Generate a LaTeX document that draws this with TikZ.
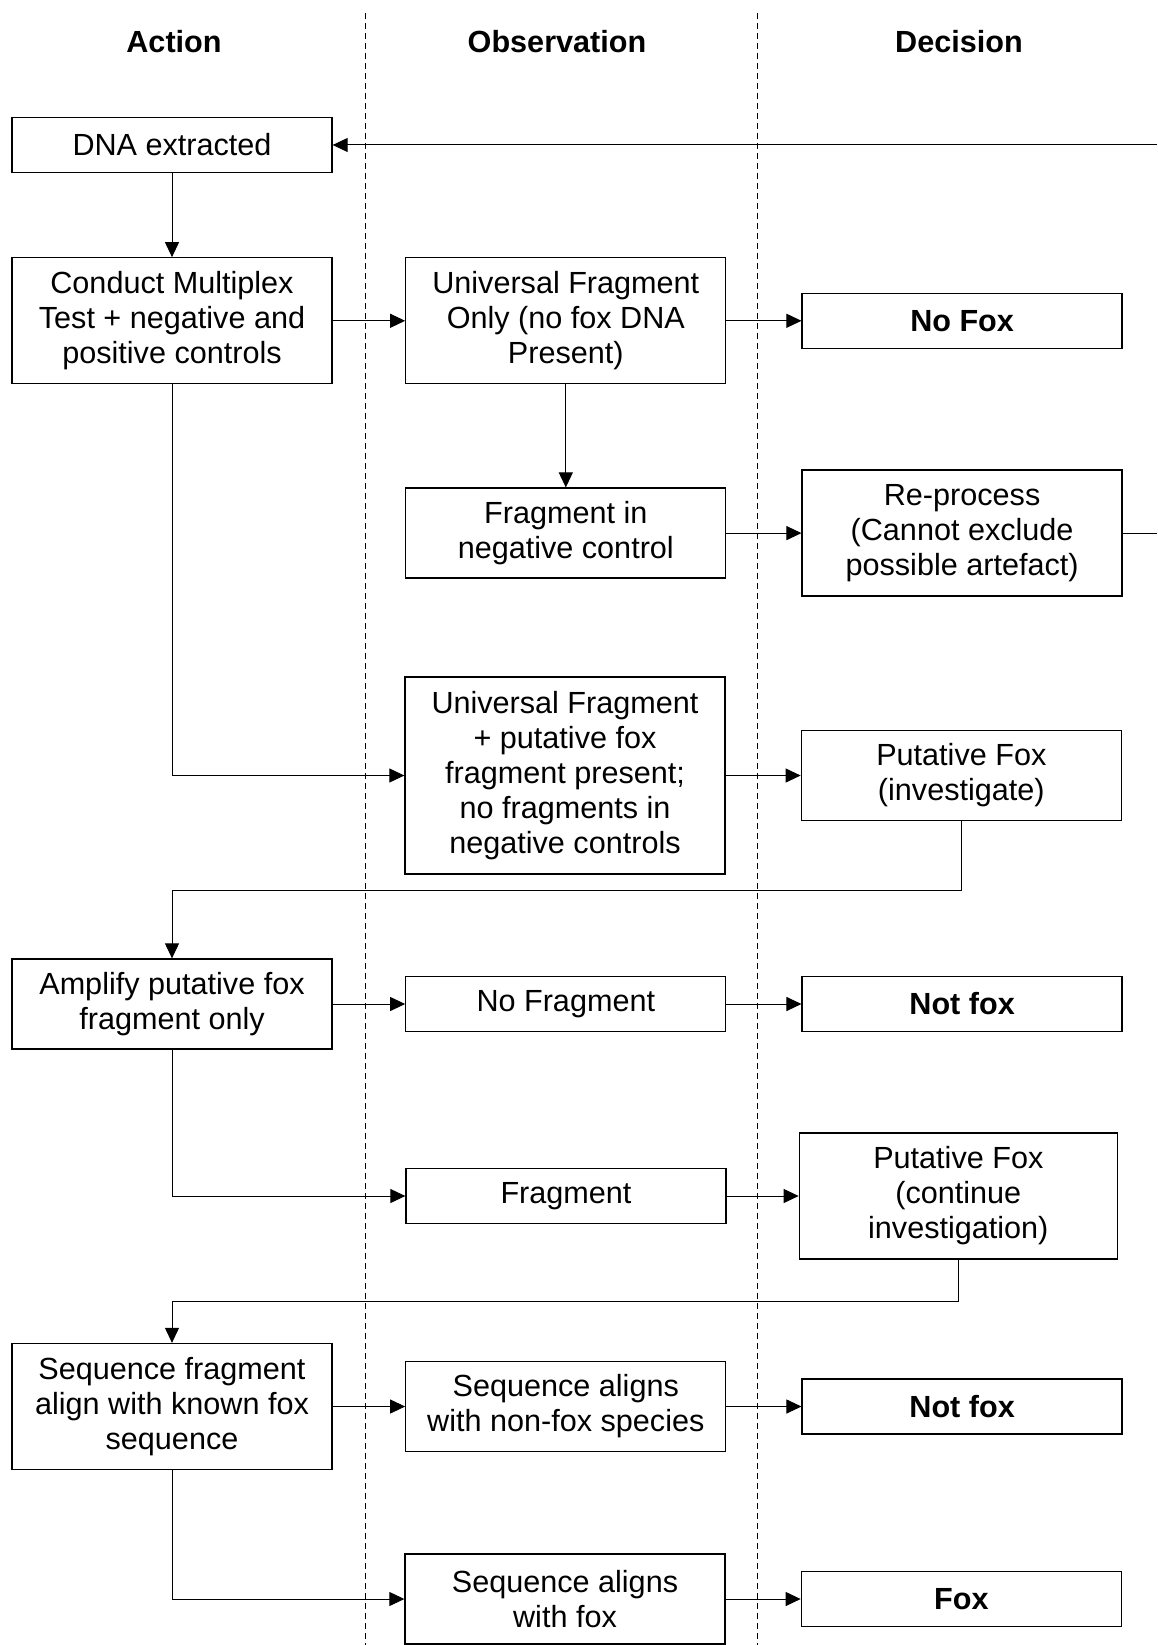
\documentclass[tikz,border=0pt]{standalone}
\usepackage{fontspec}
\setmainfont{Liberation Sans}
\usetikzlibrary{positioning,arrows.meta}

\tikzset{
  box/.style={draw, line width=1.3pt, minimum width=320pt, align=center, inner sep=6pt, font=\fontsize{30.6}{35}\selectfont},
  one/.style={box, minimum height=55pt},
  two/.style={box, minimum height=90pt},
  three/.style={box, minimum height=126pt},
  five/.style={box, minimum height=197pt},
  head/.style={font=\fontsize{30.6}{35}\selectfont\bfseries},
  arr/.style={-{Triangle[length=15pt,width=14pt]}, line width=1pt},
  lane/.style={dash pattern=on 6pt off 4pt, line width=1pt},
}

\begin{document}
\begin{tikzpicture}[x=1pt, y=-1pt]
\useasboundingbox (0,0) rectangle (1157,1645);

\draw[lane] (365,13) -- (365,1645);
\draw[lane] (757,13) -- (757,1645);

\node[head] (hact) at (174,42) {Action};
\node[head] (hobs) at (557,42) {Observation};
\node[head] (hdec) at (959,42) {Decision};

\node[one] (dna) at (172,145) {DNA extracted};
\node[three, below=84pt of dna] (conduct) {Conduct Multiplex\\Test + negative and\\positive controls};
\node[three, right=72.5pt of conduct] (univonly) {Universal Fragment\\Only (no fox DNA\\Present)};
\node[one, right=75pt of univonly] (nofox) {\textbf{No Fox}};
\node[two, below=103pt of univonly] (fragneg) {Fragment in\\negative control};
\node[three, right=75pt of fragneg] (reproc) {Re-process\\(Cannot exclude\\possible artefact)};
\node[five] (univput) at (565,775.5) {Universal Fragment\\+ putative fox\\fragment present;\\no fragments in\\negative controls};
\node[two, right=75pt of univput] (putfox) {Putative Fox\\(investigate)};

\node[two] (amplify) at (172,1004) {Amplify putative fox\\fragment only};
\node[one, right=72.5pt of amplify] (nofrag) {No Fragment};
\node[one, right=75pt of nofrag] (notfoxa) {\textbf{Not fox}};
\node[one] (frag) at (566,1196) {Fragment};
\node[three, minimum width=318pt, right=72pt of frag] (putfoxb) {Putative Fox\\(continue\\investigation)};

\node[three] (seqfrag) at (172,1406.5) {Sequence fragment\\align with known fox\\sequence};
\node[two, right=72.5pt of seqfrag] (seqnon) {Sequence aligns\\with non-fox species};
\node[one, right=75pt of seqnon] (notfoxb) {\textbf{Not fox}};
\node[two] (seqfox) at (565,1599) {Sequence aligns\\with fox};
\node[one, right=75pt of seqfox] (fox) {\textbf{Fox}};

\coordinate (loopin) at (1157,145);
\coordinate (loopout) at (1157,530);

\draw[arr] (dna) -- (conduct);
\draw[arr] (conduct) -- (univonly);
\draw[arr] (univonly) -- (nofox);
\draw[arr] (univonly) -- (fragneg);
\draw[arr] (fragneg) -- (reproc);
\draw[line width=1pt] (reproc.east) -- (reproc.east -| loopout);
\draw[arr] (loopin) -- (dna);
\draw[arr] (conduct.south) |- (univput.west);
\draw[arr] (univput) -- (putfox);
\draw[arr] (putfox.south) -- ++(0,69) -| (amplify.north);
\draw[arr] (amplify) -- (nofrag);
\draw[arr] (nofrag) -- (notfoxa);
\draw[arr] (amplify.south) |- (frag.west);
\draw[arr] (frag) -- (putfoxb);
\draw[arr] (putfoxb.south) -- ++(0,42) -| (seqfrag.north);
\draw[arr] (seqfrag) -- (seqnon);
\draw[arr] (seqnon) -- (notfoxb);
\draw[arr] (seqfrag.south) |- (seqfox.west);
\draw[arr] (seqfox) -- (fox);
\end{tikzpicture}
\end{document}
